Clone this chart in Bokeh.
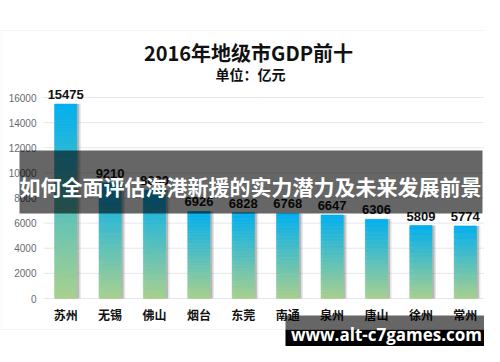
from bokeh.plotting import figure
from bokeh.models import Range1d, FixedTicker, BoxAnnotation, Label, ColumnDataSource
from bokeh.transform import dodge
from bokeh.core.properties import value
from bokeh.embed import file_html
from bokeh.resources import INLINE

# ---- data ----
cities = ["苏州", "无锡", "佛山", "烟台", "东莞", "南通", "泉州", "唐山", "徐州", "常州"]
gdp = [15475, 9210, 8630, 6926, 6828, 6768, 6647, 6306, 5809, 5774]
y_ticks = [0, 2000, 4000, 6000, 8000, 10000, 12000, 14000, 16000]
title_text = "2016年地级市GDP前十"
subtitle_text = "单位：亿元"
banner_text = "如何全面评估海港新援的实力潜力及未来发展前景"
watermark_text = "www.alt-c7games.com"

W, H = 484, 346
# ---- layout helpers (canvas pixel -> data coords) ----
CAT_L, CAT_STEP = 43.0, 44.4
Y0_PX, PX_PER_UNIT = 298.0, 201.0 / 16000.0
def px_x(px):
    return (px - CAT_L) / CAT_STEP
def px_y(py):
    return (Y0_PX - py) / PX_PER_UNIT

xpos = [i + 0.5 for i in range(len(cities))]

p = figure(width=W, height=H, output_backend="svg", toolbar_location=None,
           x_range=Range1d(px_x(0), px_x(W)), y_range=Range1d(px_y(H), px_y(0)),
           min_border=0, min_border_left=0, min_border_right=0,
           min_border_top=0, min_border_bottom=0)
p.outline_line_color = None
p.background_fill_color = "white"
p.border_fill_color = "white"
p.xgrid.visible = False
p.ygrid.visible = False

# chart frame border
p.add_layout(BoxAnnotation(left=px_x(0.5), right=px_x(499), top=px_y(30), bottom=px_y(329),
                           fill_alpha=0, line_color="#D9DCE3", line_width=1, level="underlay"))

# gridlines at the tick values
p.segment(x0=[px_x(43)] * len(y_ticks), x1=[px_x(487)] * len(y_ticks), y0=y_ticks, y1=y_ticks,
          line_color="#E4E7EF", line_width=1)

# axes fixed inside the frame
ya = p.yaxis[0]
ya.fixed_location = px_x(43)
ya.ticker = FixedTicker(ticks=y_ticks)
ya.axis_line_color = None
ya.major_tick_line_color = None
ya.minor_tick_line_color = None
ya.major_tick_out = 0
ya.major_tick_in = 0
ya.major_label_standoff = 7
ya.major_label_text_font = "Liberation Sans"
ya.major_label_text_font_size = "10px"
ya.major_label_text_color = "#666a73"

xa = p.xaxis[0]
xa.fixed_location = 0
xa.ticker = FixedTicker(ticks=xpos)
xa.major_label_overrides = {x: c for x, c in zip(xpos, cities)}
xa.axis_line_color = None
xa.major_tick_line_color = None
xa.minor_tick_line_color = None
xa.major_tick_out = 0
xa.major_tick_in = 0
xa.major_label_standoff = 7
xa.major_label_text_font = "Noto Sans CJK SC"
xa.major_label_text_font_style = "bold"
xa.major_label_text_font_size = "12px"
xa.major_label_text_color = "#111111"

# shadows
src = ColumnDataSource(dict(x=xpos, v=gdp, lab=[str(g) for g in gdp]))
p.vbar(x=dodge("x", 0.09), top="v", width=0.5, fill_color="#9a9a9a",
       fill_alpha=0.25, line_color=None, source=src)
p.vbar(x=dodge("x", 0.055), top="v", width=0.5, fill_color="#808080",
       fill_alpha=0.45, line_color=None, source=src)

# gradient bars built from slices
N = 60
top_rgb = (0x00, 0xB0, 0xF0)
bot_rgb = (0xA9, 0xD1, 0x8E)
sx, sb, st, sc = [], [], [], []
for x, v in zip(xpos, gdp):
    for j in range(N):
        t = (j + 0.5) / N
        col = "#%02x%02x%02x" % tuple(int(round(b + (a - b) * t)) for a, b in zip(top_rgb, bot_rgb))
        sx.append(x); sb.append(v * j / N); st.append(v * (j + 1) / N); sc.append(col)
p.vbar(x="x", bottom="b", top="t", width=0.5, fill_color="c", line_color="c", line_width=0.6,
       source=ColumnDataSource(dict(x=sx, b=sb, t=st, c=sc)))

# value labels
p.text(x="x", y="v", text="lab", source=src, text_align="center", text_baseline="bottom",
       y_offset=-5, text_font=value("Liberation Sans"), text_font_style="bold",
       text_font_size="13px", text_color="#111111")

# titles
p.add_layout(Label(x=px_x(248), y=px_y(52), text=title_text, text_align="center",
                   text_baseline="middle", text_font="Noto Sans CJK SC", text_font_style="bold",
                   text_font_size="20px", text_color="#111111"))
p.add_layout(Label(x=px_x(250), y=px_y(73), text=subtitle_text, text_align="center",
                   text_baseline="middle", text_font="Noto Sans CJK SC", text_font_style="bold",
                   text_font_size="14px", text_color="#111111"))

# overlay banner
p.add_layout(BoxAnnotation(left=px_x(19), right=px_x(482), top=px_y(150), bottom=px_y(213),
                           fill_color="black", fill_alpha=0.6, line_color=None))
p.add_layout(Label(x=px_x(250), y=px_y(185), text=banner_text, text_align="center",
                   text_baseline="middle", text_font="Noto Sans CJK SC", text_font_style="bold",
                   text_font_size="21px", text_color="white"))

# watermark box
p.add_layout(BoxAnnotation(left=px_x(285), right=px_x(491), top=px_y(315), bottom=px_y(329),
                           fill_color="black", fill_alpha=0.6, line_color=None))
p.add_layout(BoxAnnotation(left=px_x(285), right=px_x(491), top=px_y(329), bottom=px_y(352),
                           fill_color="black", fill_alpha=1.0, line_color=None))
p.add_layout(Label(x=px_x(386), y=px_y(333.5), text=watermark_text, text_align="center",
                   text_baseline="middle", text_font="Open Sans", text_font_style="bold",
                   text_font_size="17px", text_color="white"))

open("out.html", "w").write(file_html(p, INLINE))
